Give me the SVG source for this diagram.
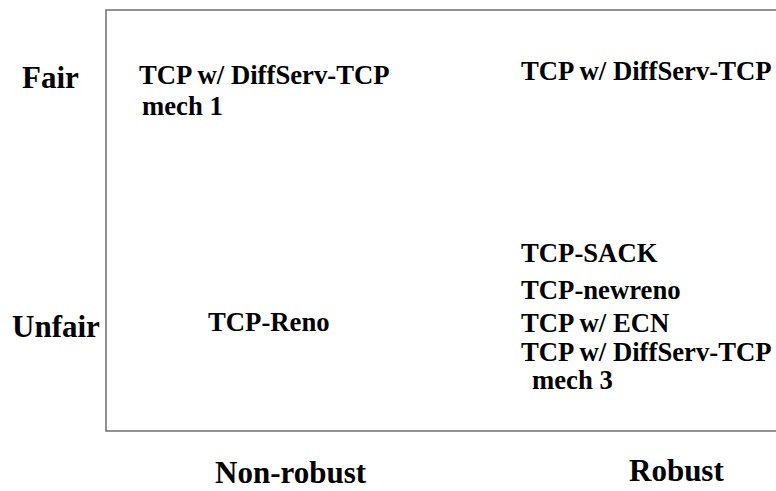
<svg xmlns="http://www.w3.org/2000/svg" width="776" height="491" viewBox="0 0 776 491">
  <style>
    text { font-family: 'Liberation Serif', 'Times New Roman', 'DejaVu Serif', serif; font-weight: 700; fill: #000; }
    .axis { font-size: 31px; }
    .item { font-size: 26.7px; }
    .frame { fill: none; stroke: #777; stroke-width: 1.6; }
  </style>
  <rect width="776" height="491" fill="#fff"/>
  <g id="frame">
    <rect class="frame" x="106" y="10" width="700" height="421"/>
  </g>
  <g id="axis-labels">
    <text class="axis" x="22" y="88">Fair</text>
    <text class="axis" x="12" y="337">Unfair</text>
    <text class="axis" x="215" y="483">Non-robust</text>
    <text class="axis" x="629" y="481">Robust</text>
  </g>
  <g id="node-fair-nonrobust">
    <text class="item" x="139" y="84">TCP w/ DiffServ-TCP</text>
    <text class="item" x="142" y="115">mech 1</text>
  </g>
  <g id="node-fair-robust">
    <text class="item" x="521" y="80">TCP w/ DiffServ-TCP</text>
  </g>
  <g id="node-unfair-nonrobust">
    <text class="item" x="208" y="331">TCP-Reno</text>
  </g>
  <g id="node-unfair-robust">
    <text class="item" x="521" y="262">TCP-SACK</text>
    <text class="item" x="521" y="299">TCP-newreno</text>
    <text class="item" x="521" y="332">TCP w/ ECN</text>
    <text class="item" x="521" y="361">TCP w/ DiffServ-TCP</text>
    <text class="item" x="532" y="389">mech 3</text>
  </g>
  <g id="connectors"/>
</svg>
